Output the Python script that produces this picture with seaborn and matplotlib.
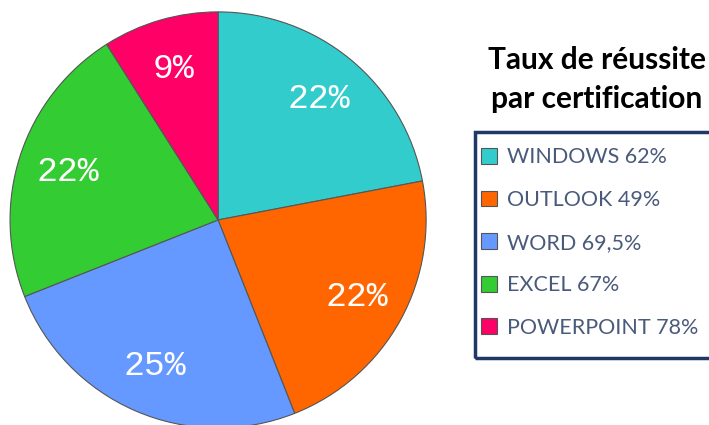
import matplotlib
matplotlib.use("Agg")
import matplotlib.pyplot as plt
from matplotlib.patches import Rectangle
import seaborn as sns

# parts of the pie (labels inside slices)
shares = [22, 22, 25, 22, 9]
certifs = ["WINDOWS", "OUTLOOK", "WORD", "EXCEL", "POWERPOINT"]
reussite = ["62%", "49%", "69,5%", "67%", "78%"]
colors = ["#33CCCC", "#FF6600", "#6699FF", "#33CC33", "#FF0066"]

sns.set_theme(style="white")
plt.rcParams['font.family'] = ['Lato', 'DejaVu Sans']

fig = plt.figure(figsize=(7.09, 4.25), dpi=100)
ax = fig.add_axes([0.0141, -0.007, 0.587, 0.979])

wedges, texts, autotexts = ax.pie(
    shares,
    colors=colors,
    startangle=90,
    counterclock=False,
    autopct=lambda p: "%d%%" % round(p),
    pctdistance=0.76,
    wedgeprops={"edgecolor": "#555555", "linewidth": 0.8},
)
for t in autotexts:
    t.set_color("white")
    t.set_fontsize(25)
    t.set_family(["Liberation Mono", "DejaVu Sans Mono"])
ax.set_xlim(-1.0, 1.0)
ax.set_ylim(-1.0, 1.0)
ax.set_aspect("equal")

fig.text(0.842, 0.813, "Taux de réussite\npar certification",
         ha="center", va="center", fontsize=21.5, fontweight="bold",
         linespacing=1.5, color="black")

# legend box
fig.patches.append(Rectangle((0.670, 0.158), 0.334, 0.532, transform=fig.transFigure,
                             fill=False, edgecolor="#1F3864", linewidth=2.5))

labels = [c + " " + r for c, r in zip(certifs, reussite)]
leg = fig.legend(wedges, labels,
                 loc="upper left",
                 bbox_to_anchor=(0.678, 0.653),
                 fontsize=15.5, labelcolor="#4A5A7A",
                 handlelength=0.75, handleheight=0.75, handletextpad=0.45,
                 labelspacing=1.05, borderpad=0, borderaxespad=0,
                 frameon=False)

fig.savefig("out.png", dpi=100)
